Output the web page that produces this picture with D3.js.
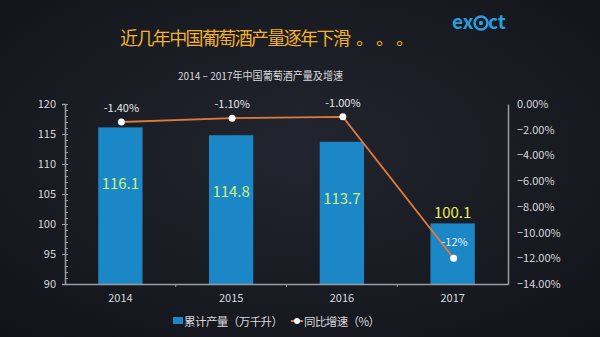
<!DOCTYPE html>
<html><head><meta charset="utf-8">
<script src="https://cdn.jsdelivr.net/npm/d3@7"></script>
<style>
html,body{margin:0;padding:0;background:#15171e;}
svg{display:block;}
text{font-family:"Noto Sans CJK SC","Noto Sans",sans-serif;}
</style></head>
<body>
<svg id="c" width="600" height="337"></svg>
<script>
const categories = ["2014","2015","2016","2017"];
const production = [116.1, 114.8, 113.7, 100.1];
const growth = [-1.4, -1.1, -1.0, -12];
const growthLabels = ["-1.40%","-1.10%","-1.00%","-12%"];
const leftTicks = [90,95,100,105,110,115,120];
const rightTicks = [0,-2,-4,-6,-8,-10,-12,-14];
const titleMain = "近几年中国葡萄酒产量逐年下滑";
const titleDots = "。。。";
const subtitle = "2014 – 2017年中国葡萄酒产量及增速";
const legendNames = ["累计产量（万千升）","同比增速（%）"];

const svg = d3.select("#c");
const W = 600, H = 337;
const defs = svg.append("defs");
const bg = defs.append("radialGradient").attr("id","bg").attr("cx","50%").attr("cy","45%").attr("r","75%");
bg.append("stop").attr("offset","0%").attr("stop-color","#22252f");
bg.append("stop").attr("offset","100%").attr("stop-color","#121319");
svg.append("rect").attr("width",W).attr("height",H).attr("fill","url(#bg)");

const m = {l:65, r:508, t:104, b:284};
const x = d3.scaleBand().domain(categories).range([m.l, m.r]).paddingInner(0.6).paddingOuter(0.3);
const xb = d3.scaleBand().domain(categories).range([m.l, m.r]);
const yL = d3.scaleLinear().domain([90,120]).range([m.b, m.t]);
const yR = d3.scaleLinear().domain([-14,0]).range([m.b, m.t]);
const axisCol = "#9a9ca2", txtCol = "#d8d8dc";

// Title
svg.append("text").attr("x",120).attr("y",45).attr("text-anchor","start")
  .attr("font-size",18).attr("fill","#f2b12e")
  .attr("textLength",231).attr("lengthAdjust","spacing").text(titleMain);
svg.append("text").attr("x",356).attr("y",45).attr("text-anchor","start")
  .attr("font-size",18).attr("fill","#f2b12e")
  .attr("textLength",58).attr("lengthAdjust","spacing").text(titleDots);
svg.append("text").attr("x",178).attr("y",80).attr("text-anchor","start")
  .attr("font-size",11).attr("fill",txtCol)
  .attr("textLength",165).attr("lengthAdjust","spacingAndGlyphs").text(subtitle);

// Logo
const lg = svg.append("g").attr("transform","translate(452,29)");
lg.append("text").attr("x",0).attr("y",0).attr("font-size",19).attr("font-weight","bold")
  .attr("font-family","Liberation Sans, sans-serif").attr("fill","#2b9ddc").text("ex");
lg.append("circle").attr("cx",29).attr("cy",-6).attr("r",6.5).attr("fill","none").attr("stroke","#2b9ddc").attr("stroke-width",2.5);
lg.append("circle").attr("cx",29).attr("cy",-6).attr("r",2.2).attr("fill","#2b9ddc");
lg.append("text").attr("x",36).attr("y",0).attr("font-size",19).attr("font-weight","bold")
  .attr("font-family","Liberation Sans, sans-serif").attr("fill","#2b9ddc").text("ct");

// Bars
svg.append("g").selectAll("rect").data(production).join("rect")
  .attr("x",(d,i)=>x(categories[i])).attr("width",x.bandwidth())
  .attr("y",d=>yL(d)).attr("height",d=>m.b - yL(d)).attr("fill","#1c87c6");

// Left axis
const la = svg.append("g").attr("transform",`translate(${m.l},0)`)
  .call(d3.axisLeft(yL).tickValues(leftTicks).tickSize(3).tickPadding(6));
la.select(".domain").attr("stroke",axisCol).attr("stroke-width",1.5);
la.selectAll(".tick line").attr("stroke",axisCol);
la.selectAll("text").attr("fill",txtCol).attr("font-size",11).attr("font-family","Liberation Sans, Arial, sans-serif");
svg.append("g").attr("transform",`translate(${m.l},0)`)
  .call(d3.axisRight(yL).tickValues(d3.range(90,121,1)).tickSize(3).tickFormat(""))
  .call(g=>{g.select(".domain").remove(); g.selectAll("line").attr("stroke",axisCol);});

// Right axis
const ra = svg.append("g").attr("transform",`translate(${m.r},0)`)
  .call(d3.axisRight(yR).tickValues(rightTicks).tickSize(0).tickPadding(9).tickFormat(d=>d3.format(".2f")(d)+"%"));
ra.select(".domain").attr("stroke",axisCol).attr("stroke-width",1.5);
ra.selectAll("text").attr("fill",txtCol).attr("font-size",11).attr("font-family","Liberation Sans, Arial, sans-serif");

// Bottom axis
const ba = svg.append("g").attr("transform",`translate(0,${m.b})`)
  .call(d3.axisBottom(xb).tickSize(0).tickPadding(10));
ba.select(".domain").attr("stroke",axisCol).attr("stroke-width",1.5);
ba.selectAll("text").attr("fill",txtCol).attr("font-size",11).attr("font-family","Liberation Sans, Arial, sans-serif");
ba.selectAll(".sep").data(categories.slice(1)).join("line").attr("class","sep")
  .attr("x1",d=>xb(d)).attr("x2",d=>xb(d)).attr("y1",0).attr("y2",3).attr("stroke",axisCol);

// Bar value labels
svg.append("g").selectAll("text").data(production).join("text")
  .attr("x",(d,i)=>x(categories[i])+x.bandwidth()/2)
  .attr("y",(d,i)=> i<3 ? yL(d)+62 : yL(d)-5)
  .attr("text-anchor","middle").attr("font-size",15)
  .attr("fill",(d,i)=> i<3 ? "#c9f27c" : "#eaf05a")
  .text(d=>d3.format(".1f")(d));

// Line
const cx = i => xb(categories[i]) + xb.bandwidth()/2 + 1;
svg.append("path").datum(growth)
  .attr("d", d3.line().x((d,i)=>cx(i)).y(d=>yR(d)))
  .attr("fill","none").attr("stroke","#e07a3a").attr("stroke-width",1.8);
svg.append("g").selectAll("circle").data(growth).join("circle")
  .attr("cx",(d,i)=>cx(i)).attr("cy",d=>yR(d)).attr("r",3.5).attr("fill","#ffffff");
svg.append("g").selectAll("text").data(growth).join("text")
  .attr("x",(d,i)=> i<3 ? cx(i) : cx(i)+1)
  .attr("y",(d,i)=> i<3 ? yR(d)-10 : yR(d)-12)
  .attr("text-anchor","middle").attr("font-size",11)
  .attr("font-family","Liberation Sans, Arial, sans-serif")
  .attr("fill",(d,i)=> i<3 ? "#e6e6ea" : "#e8f2fa")
  .text((d,i)=>growthLabels[i]);

// Legend
const leg = svg.append("g").attr("transform","translate(0,322)");
leg.append("rect").attr("x",173).attr("y",-5).attr("width",10).attr("height",7).attr("fill","#1c87c6");
leg.append("text").attr("x",184).attr("y",4).attr("font-size",11.5).attr("fill",txtCol)
  .attr("textLength",99).attr("lengthAdjust","spacing").text(legendNames[0]);
leg.append("line").attr("x1",291).attr("x2",303).attr("y1",-1).attr("y2",-1).attr("stroke","#e07a3a").attr("stroke-width",2);
leg.append("circle").attr("cx",297).attr("cy",-1).attr("r",3).attr("fill","#fff");
leg.append("text").attr("x",304).attr("y",4).attr("font-size",11.5).attr("fill",txtCol)
  .attr("textLength",76).attr("lengthAdjust","spacing").text(legendNames[1]);
</script>
</body></html>
